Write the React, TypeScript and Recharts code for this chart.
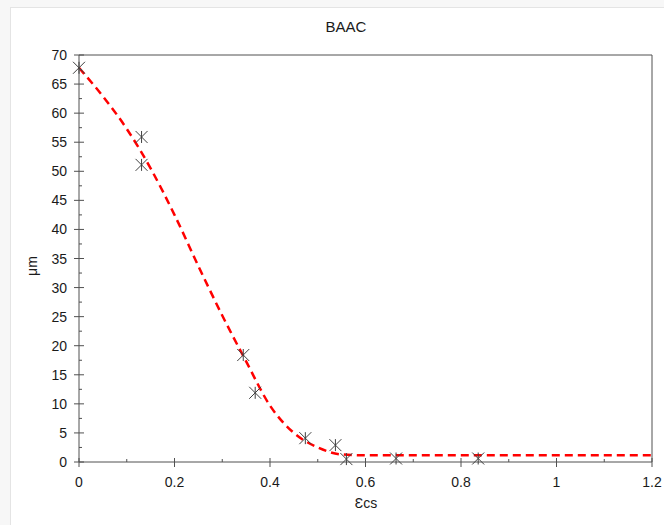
import React from "react";
import { ComposedChart, Line, ReferenceLine, Scatter, XAxis, YAxis } from "recharts";

// fitted trend
const fitX = [0, 0.05, 0.1, 0.15, 0.2, 0.25, 0.3, 0.35, 0.4, 0.45, 0.5, 0.55, 0.6, 0.8, 1.0, 1.2];
const fitY = [67.8, 62.9, 57.3, 50.5, 42.5, 33.7, 25.2, 17.3, 9.7, 5.0, 2.5, 1.3, 1.15, 1.15, 1.15, 1.15];

// measured points
const measuredX = [0, 0.131, 0.131, 0.344, 0.369, 0.474, 0.537, 0.56, 0.664, 0.836];
const measuredY = [67.8, 55.9, 51.1, 18.4, 11.9, 4.1, 2.9, 0.5, 0.6, 0.6];

const xTicks = [0, 0.1, 0.2, 0.3, 0.4, 0.5, 0.6, 0.7, 0.8, 0.9, 1.0, 1.1, 1.2];
const yTicks = [
  0, 2.5, 5, 7.5, 10, 12.5, 15, 17.5, 20, 22.5, 25, 27.5, 30, 32.5, 35, 37.5, 40,
  42.5, 45, 47.5, 50, 52.5, 55, 57.5, 60, 62.5, 65, 67.5, 70,
];

const fitData = fitX.map((x, i) => ({ x, y: fitY[i] }));
const measuredData = measuredX.map((x, i) => ({ x, y: measuredY[i] }));

const FONT = "'Liberation Sans', Arial, sans-serif";
const AXIS = "#505050";
const TEXT = "#1a1a1a";

function XTick(props: any) {
  const { x, y, payload } = props;
  const v = payload.value as number;
  const major = Math.round(v * 10) % 2 === 0;
  if (!major) {
    return <line x1={x} y1={y} x2={x} y2={y - 3} stroke={AXIS} strokeWidth={1} />;
  }
  return (
    <g>
      <line x1={x} y1={y - 4} x2={x} y2={y + 5} stroke={AXIS} strokeWidth={1} />
      <text x={x} y={y + 25} textAnchor="middle" fontSize={14} fill={TEXT} fontFamily={FONT}>
        {String(Number(v.toFixed(1)))}
      </text>
    </g>
  );
}

function YTick(props: any) {
  const { x, y, payload } = props;
  const v = payload.value as number;
  const major = v % 5 === 0;
  if (!major) {
    return <line x1={x} y1={y} x2={x + 3} y2={y} stroke={AXIS} strokeWidth={1} />;
  }
  return (
    <g>
      <line x1={x - 5} y1={y} x2={x + 5} y2={y} stroke={AXIS} strokeWidth={1} />
      <text x={x - 12} y={y + 5} textAnchor="end" fontSize={14} fill={TEXT} fontFamily={FONT}>
        {v}
      </text>
    </g>
  );
}

function Star(props: any) {
  const { cx, cy } = props;
  const r = 6;
  return (
    <g stroke="#404040" strokeWidth={1}>
      <line x1={cx - r} y1={cy - r} x2={cx + r} y2={cy + r} />
      <line x1={cx - r} y1={cy + r} x2={cx + r} y2={cy - r} />
      <line x1={cx} y1={cy - r} x2={cx} y2={cy + r} />
    </g>
  );
}

export default function App() {
  return (
    <div
      style={{
        position: "absolute",
        left: 0,
        top: 0,
        width: 664,
        height: 525,
        background: "#f7f7f7",
        overflow: "hidden",
        fontFamily: FONT,
      }}
    >
      <div
        style={{
          position: "absolute",
          left: 10,
          top: 7,
          width: 700,
          height: 600,
          background: "#ffffff",
          border: "1px solid #e4e4e4",
        }}
      />
      <div style={{ position: "absolute", left: 0, top: 0 }}>
        <ComposedChart
          width={664}
          height={525}
          margin={{ top: 55, right: 12, bottom: 33, left: 39 }}
        >
          <XAxis
            type="number"
            dataKey="x"
            domain={[0, 1.2]}
            ticks={xTicks}
            interval={0}
            height={30}
            tickSize={0}
            tickMargin={0}
            tickLine={false}
            axisLine={{ stroke: AXIS, strokeWidth: 1 }}
            tick={<XTick />}
          />
          <YAxis
            type="number"
            dataKey="y"
            domain={[0, 70]}
            ticks={yTicks}
            interval={0}
            width={40}
            tickSize={0}
            tickMargin={0}
            tickLine={false}
            axisLine={{ stroke: AXIS, strokeWidth: 1 }}
            tick={<YTick />}
          />
          <ReferenceLine y={70} stroke={AXIS} strokeWidth={1} />
          <ReferenceLine x={1.2} stroke={AXIS} strokeWidth={1} />
          <Line
            data={fitData}
            dataKey="y"
            type="monotone"
            stroke="#ff0000"
            strokeWidth={2.5}
            strokeDasharray="8 5"
            dot={false}
            activeDot={false}
            isAnimationActive={false}
          />
          <Scatter data={measuredData} dataKey="y" shape={<Star />} isAnimationActive={false} />
        </ComposedChart>
      </div>
      <div
        style={{
          position: "absolute",
          left: 296,
          width: 100,
          top: 18,
          textAlign: "center",
          fontSize: 15,
          color: TEXT,
        }}
      >
        BAAC
      </div>
      <div
        style={{
          position: "absolute",
          left: 316,
          width: 100,
          top: 495,
          textAlign: "center",
          fontSize: 14,
          color: TEXT,
        }}
      >
        Ɛcs
      </div>
      <div
        style={{
          position: "absolute",
          left: 2,
          top: 258,
          width: 60,
          textAlign: "center",
          fontSize: 14,
          color: TEXT,
          transform: "rotate(-90deg)",
        }}
      >
        μm
      </div>
    </div>
  );
}
